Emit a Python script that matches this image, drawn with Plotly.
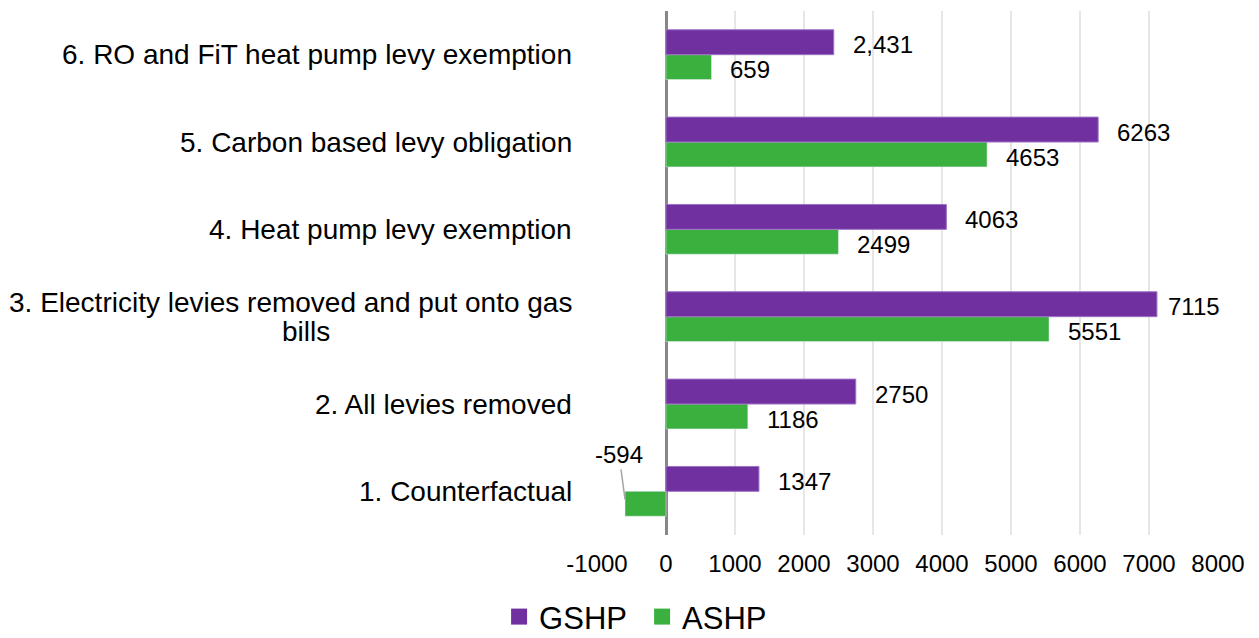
import plotly.graph_objects as go

# scenarios, bottom to top
categories = [
    "1. Counterfactual",
    "2. All levies removed",
    "3. Electricity levies removed and put onto gas<br>bills",
    "4. Heat pump levy exemption",
    "5. Carbon based levy obligation",
    "6. RO and FiT heat pump levy exemption",
]
gshp_values = [1347, 2750, 7115, 4063, 6263, 2431]
ashp_values = [-594, 1186, 5551, 2499, 4653, 659]
gshp_labels = ["1347", "2750", "7115", "4063", "6263", "2,431"]
ashp_labels = ["-594", "1186", "5551", "2499", "4653", "659"]
x_ticks = [-1000, 0, 1000, 2000, 3000, 4000, 5000, 6000, 7000, 8000]

GSHP_COLOR = "#7030A0"
ASHP_COLOR = "#3AB03F"
FONT = "Liberation Sans, Arial, sans-serif"
LABEL_FONT = dict(family=FONT, size=28, color="#000")
VALUE_FONT = dict(family=FONT, size=24, color="#000")

fig = go.Figure()

# ASHP first so that it sits below GSHP within each horizontal group
fig.add_trace(go.Bar(
    y=categories, x=ashp_values, orientation="h",
    marker=dict(color=ASHP_COLOR), showlegend=False, name="ASHP",
))
fig.add_trace(go.Bar(
    y=categories, x=gshp_values, orientation="h",
    marker=dict(color=GSHP_COLOR, line=dict(color="#9C72C4", width=1)),
    showlegend=False, name="GSHP",
))

# legend proxies (bigger squares than the default bar icon)
for name, color in [("GSHP", GSHP_COLOR), ("ASHP", ASHP_COLOR)]:
    fig.add_trace(go.Scatter(
        x=[None], y=[None], mode="markers", name=name,
        marker=dict(symbol="square", size=16, color=color),
    ))

# category labels; wrapped one done line by line for tighter spacing
for cat in categories:
    lines = cat.split("<br>")
    if len(lines) == 1:
        fig.add_annotation(
            x=0, xref="paper", y=cat, yref="y", xshift=-23,
            xanchor="right", yanchor="middle",
            text=cat, showarrow=False, font=LABEL_FONT,
        )
    else:
        fig.add_annotation(
            x=0, xref="paper", y=cat, yref="y", xshift=-23, yshift=14.5,
            xanchor="right", yanchor="middle",
            text=lines[0], showarrow=False, font=LABEL_FONT,
        )
        fig.add_annotation(
            x=0, xref="paper", y=cat, yref="y", xshift=-291, yshift=-14.5,
            xanchor="center", yanchor="middle",
            text=lines[1], showarrow=False, font=LABEL_FONT,
        )

# value labels
for cat, v, lab in zip(categories, gshp_values, gshp_labels):
    fig.add_annotation(
        x=v, y=cat, xanchor="left", yanchor="middle", text=lab,
        showarrow=False, xshift=9 if v > 7000 else 17, yshift=10,
        font=VALUE_FONT,
    )
for cat, v, lab in zip(categories, ashp_values, ashp_labels):
    if v < 0:
        fig.add_annotation(
            x=v, y=cat, text=lab, showarrow=True, arrowhead=0,
            arrowcolor="#A6A6A6", arrowwidth=1.5, ax=-6, ay=-45,
            yshift=-8, standoff=0, font=VALUE_FONT,
        )
    else:
        fig.add_annotation(
            x=v, y=cat, xanchor="left", yanchor="middle", text=lab,
            showarrow=False, xshift=17, yshift=-15, font=VALUE_FONT,
        )

fig.update_layout(
    width=1259, height=638,
    margin=dict(l=597, r=41, t=11, b=103),
    barmode="group", bargap=0.43, bargroupgap=0,
    plot_bgcolor="white", paper_bgcolor="white",
    font=dict(family=FONT, color="#000"),
    legend=dict(
        orientation="h", xref="container", yref="container",
        x=0.51, xanchor="center", y=0.033, yanchor="middle",
        entrywidth=98, entrywidthmode="pixels",
        font=dict(size=31, color="#000"),
    ),
    xaxis=dict(
        range=[-1000, 8000], tickvals=x_ticks,
        ticktext=[str(t) for t in x_ticks],
        showgrid=True, gridcolor="#E6E6E6", gridwidth=1.5,
        zeroline=True, zerolinecolor="#878787", zerolinewidth=3,
        showline=False, ticks="", ticklabelstandoff=12,
        tickfont=dict(size=24, color="#000"),
    ),
    yaxis=dict(
        showticklabels=False, showgrid=False, zeroline=False,
        showline=False, ticks="",
    ),
)

# drop the page margin so the 1259x638 figure fills the window exactly
fig.write_html(
    "out.html",
    config={"displayModeBar": False},
    post_script="document.body.style.margin='0';",
)
